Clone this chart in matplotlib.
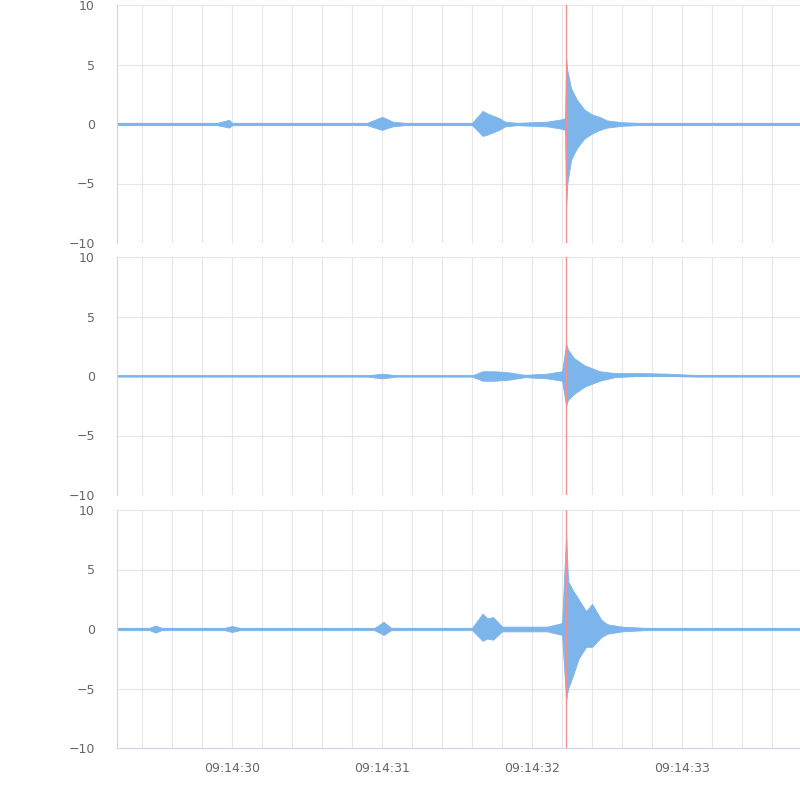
import matplotlib.pyplot as plt
from matplotlib.ticker import MultipleLocator

# seconds after 09:14:29, envelope (upper, lower)
t1 = [0.23, 0.9, 0.98, 1.0, 1.04, 1.1, 1.9, 2.0, 2.02, 2.07, 2.15, 2.6, 2.67, 2.7, 2.78, 2.82, 2.9, 3.1, 3.2, 3.22, 3.227, 3.235, 3.26, 3.3, 3.35, 3.4, 3.45, 3.5, 3.6, 3.7, 4.8]
u1 = [0.1, 0.1, 0.35, 0.1, 0.1, 0.1, 0.1, 0.6, 0.5, 0.2, 0.1, 0.1, 1.1, 0.9, 0.5, 0.2, 0.1, 0.2, 0.4, 0.5, 5.5, 4.5, 3.0, 2.0, 1.2, 0.8, 0.6, 0.3, 0.15, 0.1, 0.1]
l1 = [-0.1, -0.1, -0.3, -0.1, -0.1, -0.1, -0.1, -0.5, -0.4, -0.2, -0.1, -0.1, -1.0, -0.9, -0.5, -0.2, -0.1, -0.2, -0.4, -0.5, -7.0, -5.0, -3.0, -2.0, -1.2, -0.8, -0.5, -0.3, -0.15, -0.1, -0.1]

t2 = [0.23, 1.9, 2.0, 2.1, 2.6, 2.67, 2.75, 2.85, 2.95, 3.1, 3.2, 3.227, 3.24, 3.28, 3.35, 3.45, 3.55, 3.7, 3.9, 4.1, 4.8]
u2 = [0.05, 0.05, 0.2, 0.05, 0.05, 0.4, 0.4, 0.3, 0.1, 0.2, 0.4, 2.7, 2.2, 1.5, 0.9, 0.4, 0.25, 0.25, 0.2, 0.08, 0.05]
l2 = [-0.05, -0.05, -0.2, -0.05, -0.05, -0.4, -0.4, -0.3, -0.1, -0.2, -0.4, -2.5, -2.0, -1.5, -0.9, -0.4, -0.1, 0.0, 0.0, -0.05, -0.05]

t3 = [0.23, 0.45, 0.49, 0.53, 0.95, 1.0, 1.05, 1.95, 2.01, 2.06, 2.6, 2.67, 2.7, 2.74, 2.8, 3.1, 3.2, 3.227, 3.24, 3.27, 3.31, 3.36, 3.4, 3.46, 3.5, 3.6, 3.75, 4.8]
u3 = [0.1, 0.1, 0.3, 0.1, 0.1, 0.25, 0.1, 0.1, 0.6, 0.1, 0.1, 1.3, 0.9, 1.0, 0.2, 0.2, 0.5, 8.0, 4.0, 3.3, 2.5, 1.5, 2.1, 0.8, 0.4, 0.2, 0.1, 0.1]
l3 = [-0.1, -0.1, -0.3, -0.1, -0.1, -0.25, -0.1, -0.1, -0.5, -0.1, -0.1, -1.0, -0.8, -0.9, -0.2, -0.2, -0.5, -6.0, -5.0, -4.0, -2.5, -1.5, -1.5, -0.7, -0.4, -0.2, -0.1, -0.1]

marker_t = 3.227
tick_pos = [1, 2, 3, 4]
tick_labels = ["09:14:30", "09:14:31", "09:14:32", "09:14:33"]

blue = "#7cb5ec"
fig = plt.figure(figsize=(8, 8), dpi=100)
tops = [5, 257, 510]
for i, (t, u, l) in enumerate([(t1, u1, l1), (t2, u2, l2), (t3, u3, l3)]):
    top = tops[i]
    ax = fig.add_axes([117 / 800, 1 - (top + 238) / 800, 683 / 800, 238 / 800])
    ax.fill_between(t, u, l, color=blue, lw=0.6, edgecolor=blue)
    ax.plot([t[0], t[-1]], [0, 0], color=blue, lw=1.2)
    ax.axvline(marker_t, color="#f28f8f", lw=1)
    ax.set_xlim(0.233, 4.786)
    ax.set_ylim(-10, 10)
    ax.set_yticks([-10, -5, 0, 5, 10])
    ax.set_yticklabels(["\u221210", "\u22125", "0", "5", "10"])
    ax.xaxis.set_minor_locator(MultipleLocator(0.2))
    ax.set_xticks(tick_pos)
    ax.grid(True, which="both", axis="x", color="#e6e6e6", lw=0.8)
    ax.grid(True, axis="y", color="#e6e6e6", lw=0.8)
    ax.set_axisbelow(True)
    for s in ["top", "right"]:
        ax.spines[s].set_visible(False)
    ax.spines["left"].set_color("#ccd6eb")
    ax.spines["bottom"].set_color("#ccd6eb")
    ax.tick_params(axis="y", length=0, labelsize=9, colors="#666666", pad=16)
    ax.tick_params(which="both", axis="x", length=0)
    if i == 2:
        ax.set_xticklabels(tick_labels, fontsize=9, color="#666666")
        ax.tick_params(axis="x", pad=10)
    else:
        ax.set_xticklabels([])
        ax.spines["bottom"].set_visible(False)

fig.savefig("out.png")
